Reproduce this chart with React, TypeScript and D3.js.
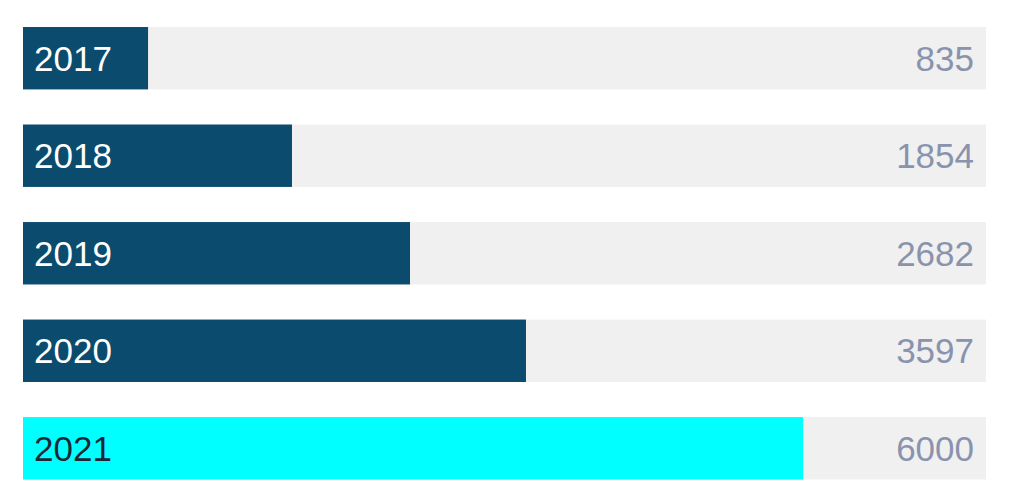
import React from "react";
import * as d3 from "d3";

// Categories (years)
const years: string[] = ["2017", "2018", "2019", "2020", "2021"];
// Value labels shown at the right of each row
const values: number[] = [835, 1854, 2682, 3597, 6000];
// Bar lengths as drawn in the picture (same units as values; bars are mid-transition)
const barLengths: number[] = [962, 2069, 2977, 3869, 6000];
// Highlighted category
const highlight = "2021";

const W = 1010;
const H = 504;

export default function App() {
  const left = 23;
  const right = 986;
  const x = d3.scaleLinear().domain([0, 6000]).range([0, 780]);
  const y = d3
    .scaleBand<string>()
    .domain(years)
    .range([27, 479.5])
    .paddingInner(0.36)
    .paddingOuter(0);
  const bw = y.bandwidth();
  const font = "'Liberation Sans', Arial, Helvetica, sans-serif";

  return (
    <svg
      width={W}
      height={H}
      style={{ position: "absolute", left: 0, top: 0, display: "block", background: "#fff" }}
    >
      {years.map((yr, i) => {
        const y0 = y(yr) as number;
        const isHi = yr === highlight;
        return (
          <g key={yr}>
            <rect x={left} y={y0} width={right - left} height={bw} fill="#f0f0f0" />
            <rect
              x={left}
              y={y0}
              width={x(barLengths[i])}
              height={bw}
              fill={isHi ? "#00ffff" : "#0a4b6e"}
            />
            <text
              x={left + 11}
              y={y0 + bw / 2}
              dy="0.36em"
              fontFamily={font}
              fontSize={35}
              fill={isHi ? "#1c2838" : "#ffffff"}
            >
              {yr}
            </text>
            <text
              x={974}
              y={y0 + bw / 2}
              dy="0.36em"
              textAnchor="end"
              fontFamily={font}
              fontSize={35}
              fill="#8a93ad"
            >
              {values[i]}
            </text>
          </g>
        );
      })}
    </svg>
  );
}
